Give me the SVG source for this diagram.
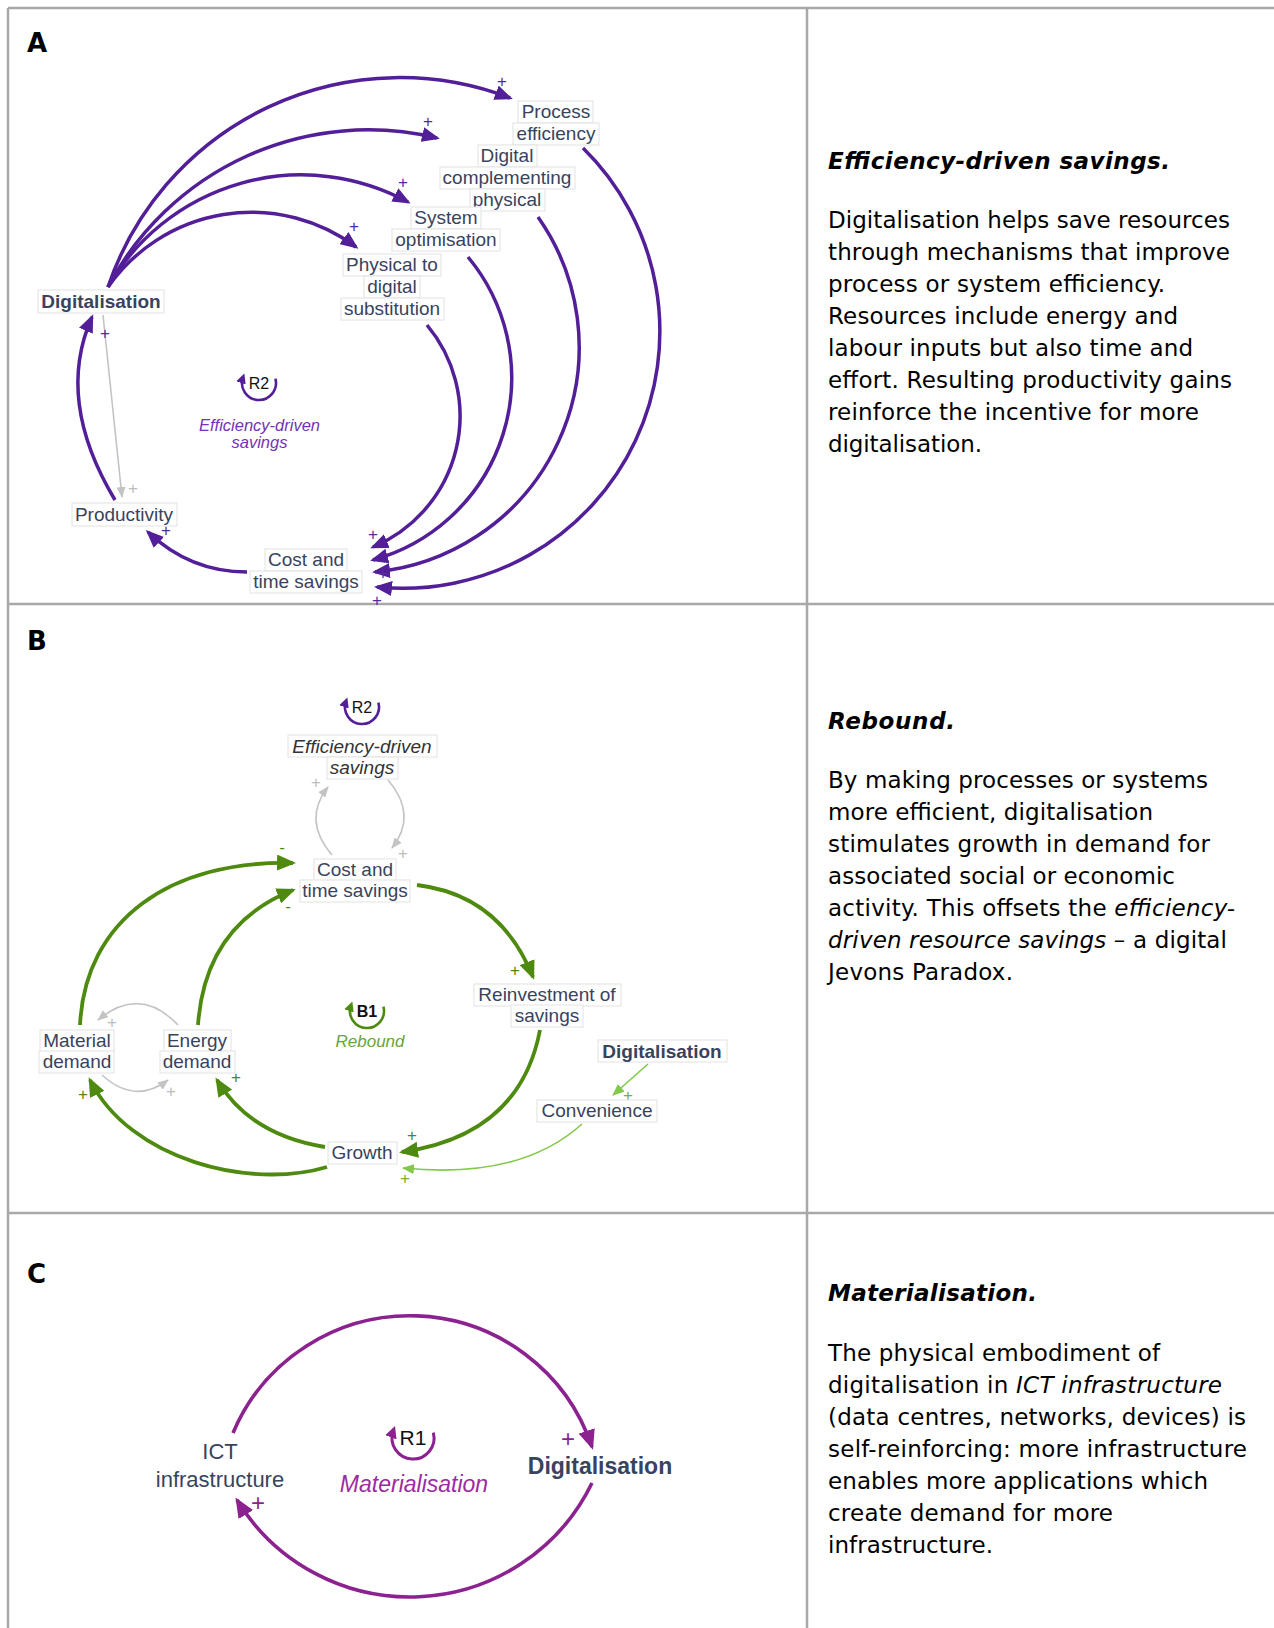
<svg xmlns="http://www.w3.org/2000/svg" width="1274" height="1628" viewBox="0 0 1274 1628">
<style>
  .grid{stroke:#a8a8a8;stroke-width:2.5;fill:none}
  .lbl{font-family:"Liberation Sans",Arial,sans-serif;font-size:19px;fill:#38435e;text-anchor:middle}
  .bold{font-weight:bold}
  .box{fill:#fff;stroke:#e2e2e2;stroke-width:1}
  .panel{font-family:"DejaVu Sans",Verdana,sans-serif;font-weight:bold;font-size:26px;fill:#000}
  .title{font-family:"DejaVu Sans",Verdana,sans-serif;font-weight:bold;font-style:italic;font-size:23px;fill:#000}
  .body{font-family:"DejaVu Sans",Verdana,sans-serif;font-size:23px;fill:#000}
  .it{font-style:italic}
  .pA{fill:none;stroke:#521f98;stroke-width:3.5;marker-end:url(#mA)}
  .gB{fill:none;stroke:#4f8a10;stroke-width:3.8;marker-end:url(#mG)}
  .grey{fill:none;stroke:#c4c4c4;stroke-width:1.6;marker-end:url(#mGr)}
  .lg{fill:none;stroke:#82c84a;stroke-width:1.6;marker-end:url(#mLG)}
  .mC{fill:none;stroke:#8c2190;stroke-width:3.6;marker-end:url(#mC)}
  .sgn{font-family:"Liberation Sans",Arial,sans-serif;font-size:17px;text-anchor:middle;dominant-baseline:central}
  .sA{fill:#5a289e}.sG{fill:#4f8a10}.sGr{fill:#bdbdbd}.sLG{fill:#6cb830}
  .sC{fill:#8c2190;font-size:24px}
  .loopTxt{font-family:"Liberation Sans",Arial,sans-serif;font-size:16px;fill:#111;text-anchor:middle}
  .loopName{font-family:"Liberation Sans",Arial,sans-serif;font-style:italic;text-anchor:middle}
</style>
<defs>
  <marker id="mA" markerUnits="userSpaceOnUse" viewBox="0 0 18 15" markerWidth="18" markerHeight="15" refX="15" refY="7.5" orient="auto"><path d="M0,0 L18,7.5 L0,15 Z" fill="#521f98"/></marker>
  <marker id="mG" markerUnits="userSpaceOnUse" viewBox="0 0 19 16" markerWidth="19" markerHeight="16" refX="16" refY="8" orient="auto"><path d="M0,0 L19,8 L0,16 Z" fill="#4f8a10"/></marker>
  <marker id="mGr" markerUnits="userSpaceOnUse" viewBox="0 0 11 9" markerWidth="11" markerHeight="9" refX="10" refY="4.5" orient="auto"><path d="M0,0 L11,4.5 L0,9 Z" fill="#c4c4c4"/></marker>
  <marker id="mLG" markerUnits="userSpaceOnUse" viewBox="0 0 12 10" markerWidth="12" markerHeight="10" refX="11" refY="5" orient="auto"><path d="M0,0 L12,5 L0,10 Z" fill="#82c84a"/></marker>
  <marker id="mC" markerUnits="userSpaceOnUse" viewBox="0 0 20 17" markerWidth="20" markerHeight="17" refX="17" refY="8.5" orient="auto"><path d="M0,0 L20,8.5 L0,17 Z" fill="#8c2190"/></marker>
  <marker id="lpA" markerUnits="userSpaceOnUse" viewBox="0 0 10 10" markerWidth="10" markerHeight="10" refX="6" refY="5" orient="auto"><path d="M0,0 L10,5 L0,10 Z" fill="#521f98"/></marker>
  <marker id="lpG" markerUnits="userSpaceOnUse" viewBox="0 0 10 10" markerWidth="10" markerHeight="10" refX="6" refY="5" orient="auto"><path d="M0,0 L10,5 L0,10 Z" fill="#4f8a10"/></marker>
  <marker id="lpC" markerUnits="userSpaceOnUse" viewBox="0 0 12 12" markerWidth="12" markerHeight="12" refX="7" refY="6" orient="auto"><path d="M0,0 L12,6 L0,12 Z" fill="#8c2190"/></marker>
</defs>
<rect width="1274" height="1628" fill="#fff"/>

<!-- table frame -->
<g id="frame">
  <line class="grid" x1="8" y1="8" x2="1274" y2="8"/>
  <line class="grid" x1="8" y1="8" x2="8" y2="1628"/>
  <line class="grid" x1="807" y1="8" x2="807" y2="1628"/>
  <line class="grid" x1="8" y1="604" x2="1274" y2="604"/>
  <line class="grid" x1="8" y1="1213" x2="1274" y2="1213"/>
  <text class="panel" x="27" y="52">A</text>
  <text class="panel" x="27" y="650">B</text>
  <text class="panel" x="27" y="1283">C</text>
</g>

<!-- causal links -->
<g id="connectors">
  <!-- panel A -->
  <path class="pA" d="M108,287 A308,308 0 0 1 510,98"/>
  <path class="pA" d="M108,287 A294,294 0 0 1 437,138"/>
  <path class="pA" d="M108,287 A223,223 0 0 1 408,202"/>
  <path class="pA" d="M108,287 A175,175 0 0 1 356,247"/>
  <path class="pA" d="M583,148 A257,257 0 0 1 377,587"/>
  <path class="pA" d="M538,217 A226,226 0 0 1 375,572"/>
  <path class="pA" d="M468,257 A189,189 0 0 1 373,560"/>
  <path class="pA" d="M427,325 A142,142 0 0 1 373,547"/>
  <path class="pA" d="M115,500 Q55,400 92,317"/>
  <path class="pA" d="M247,572 Q190,572 148,532"/>
  <path class="grey" d="M103,315 L122,497"/>
  <!-- panel B -->
  <path class="gB" d="M417,885 Q500,895 533,977"/>
  <path class="gB" d="M540,1030 Q520,1135 402,1152"/>
  <path class="gB" d="M325,1147 Q250,1135 217,1080"/>
  <path class="gB" d="M327,1167 C250,1190 130,1160 90,1080"/>
  <path class="gB" d="M80,1025 C85,920 170,860 293,863"/>
  <path class="gB" d="M198,1025 Q205,925 293,890"/>
  <path class="grey" d="M332,855 Q302,820 328,787"/>
  <path class="grey" d="M388,780 Q418,815 392,848"/>
  <path class="grey" d="M178,1025 Q140,985 98,1020"/>
  <path class="grey" d="M102,1075 Q135,1105 168,1080"/>
  <path class="lg" d="M648,1064 L613,1095"/>
  <path class="lg" d="M582,1124 Q520,1180 403,1168"/>
  <!-- panel C -->
  <path class="mC" d="M233,1433 A192,192 0 0 1 592,1447"/>
  <path class="mC" d="M592,1483 A202.5,202.5 0 0 1 237,1500"/>
</g>

<!-- link polarities -->
<g id="polarities">
  <text class="sgn sA" x="502" y="81">+</text>
  <text class="sgn sA" x="428" y="121">+</text>
  <text class="sgn sA" x="403" y="182">+</text>
  <text class="sgn sA" x="354" y="226">+</text>
  <text class="sgn sA" x="373" y="534">+</text>
  <text class="sgn sA" x="383" y="573">+</text>
  <text class="sgn sA" x="377" y="600">+</text>
  <text class="sgn sA" x="166" y="530">+</text>
  <text class="sgn sA" x="105" y="333">+</text>
  <text class="sgn sGr" x="133" y="488">+</text>
  <text class="sgn sG" x="515" y="970">+</text>
  <text class="sgn sG" x="412" y="1135">+</text>
  <text class="sgn sG" x="236" y="1077">+</text>
  <text class="sgn sG" x="83" y="1094">+</text>
  <text class="sgn sG" x="282" y="847">-</text>
  <text class="sgn sG" x="288" y="906">-</text>
  <text class="sgn sGr" x="316" y="782">+</text>
  <text class="sgn sGr" x="403" y="853">+</text>
  <text class="sgn sGr" x="112" y="1022">+</text>
  <text class="sgn sGr" x="171" y="1091">+</text>
  <text class="sgn sLG" x="628" y="1095">+</text>
  <text class="sgn sLG" x="405" y="1178">+</text>
  <text class="sgn sC" x="568" y="1438">+</text>
  <text class="sgn sC" x="258" y="1502">+</text>
</g>

<!-- loop markers -->
<g id="loop-R2-a">
  <path d="M275.4,378.6 A17,17 0 1 1 243,377.2" fill="none" stroke="#521f98" stroke-width="2.6" marker-end="url(#lpA)"/>
  <text class="loopTxt" x="259" y="389">R2</text>
  <text class="loopName" x="259.5" y="431" style="font-size:16.5px;fill:#7433b4">Efficiency-driven</text>
  <text class="loopName" x="259.5" y="448" style="font-size:16.5px;fill:#7433b4">savings</text>
</g>
<g id="loop-R2-b">
  <path d="M378.4,702.6 A17,17 0 1 1 346,701.2" fill="none" stroke="#521f98" stroke-width="2.6" marker-end="url(#lpA)"/>
  <text class="loopTxt" x="362" y="713">R2</text>
</g>
<g id="loop-B1">
  <path d="M383.4,1006.6 A17,17 0 1 1 351,1005.2" fill="none" stroke="#4f8a10" stroke-width="2.6" marker-end="url(#lpG)"/>
  <text class="loopTxt bold" x="367" y="1017">B1</text>
  <text class="loopName" x="370" y="1047" style="font-size:17px;fill:#6aa535">Rebound</text>
</g>
<g id="loop-R1">
  <path d="M433.3,1432.6 A21,21 0 1 1 393.3,1430.8" fill="none" stroke="#8c2190" stroke-width="3" marker-end="url(#lpC)"/>
  <text class="loopTxt" x="413" y="1445" style="font-size:21px">R1</text>
  <text class="loopName" x="414" y="1492" style="font-size:23px;fill:#9b2ba0">Materialisation</text>
</g>

<!-- panel A variables -->
<g id="a-digitalisation">
  <rect class="box" x="38" y="290" width="126" height="23"/>
  <text class="lbl bold" x="101" y="308">Digitalisation</text>
</g>
<g id="a-process-efficiency">
  <rect class="box" x="518" y="101" width="75" height="22"/>
  <rect class="box" x="513" y="123" width="86" height="22"/>
  <text class="lbl" x="556" y="118">Process</text>
  <text class="lbl" x="556" y="140">efficiency</text>
</g>
<g id="a-digital-complementing">
  <rect class="box" x="478" y="145" width="59" height="22"/>
  <rect class="box" x="440" y="167" width="135" height="22"/>
  <rect class="box" x="470" y="189" width="75" height="22"/>
  <text class="lbl" x="507" y="162">Digital</text>
  <text class="lbl" x="507" y="184">complementing</text>
  <text class="lbl" x="507" y="206">physical</text>
</g>
<g id="a-system-optimisation">
  <rect class="box" x="411" y="207" width="70" height="22"/>
  <rect class="box" x="392" y="229" width="108" height="22"/>
  <text class="lbl" x="446" y="224">System</text>
  <text class="lbl" x="446" y="246">optimisation</text>
</g>
<g id="a-physical-digital">
  <rect class="box" x="343" y="254" width="98" height="22"/>
  <rect class="box" x="364" y="276" width="56" height="22"/>
  <rect class="box" x="341" y="298" width="103" height="22"/>
  <text class="lbl" x="392" y="271">Physical to</text>
  <text class="lbl" x="392" y="293">digital</text>
  <text class="lbl" x="392" y="315">substitution</text>
</g>
<g id="a-productivity">
  <rect class="box" x="72" y="503" width="105" height="23"/>
  <text class="lbl" x="124" y="521">Productivity</text>
</g>
<g id="a-cost-time">
  <rect class="box" x="265" y="549" width="82" height="22"/>
  <rect class="box" x="250" y="571" width="112" height="22"/>
  <text class="lbl" x="306" y="566">Cost and</text>
  <text class="lbl" x="306" y="588">time savings</text>
</g>

<!-- panel B variables -->
<g id="b-efficiency-savings">
  <rect class="box" x="288" y="735" width="149" height="22"/>
  <rect class="box" x="327" y="757" width="71" height="22"/>
  <text class="lbl" x="362" y="753" style="font-style:italic;fill:#333">Efficiency-driven</text>
  <text class="lbl" x="362" y="774" style="font-style:italic;fill:#333">savings</text>
</g>
<g id="b-cost-time">
  <rect class="box" x="314" y="859" width="82" height="22"/>
  <rect class="box" x="300" y="880" width="110" height="22"/>
  <text class="lbl" x="355" y="876">Cost and</text>
  <text class="lbl" x="355" y="897">time savings</text>
</g>
<g id="b-reinvestment">
  <rect class="box" x="474" y="984" width="147" height="22"/>
  <rect class="box" x="511" y="1005" width="72" height="22"/>
  <text class="lbl" x="547" y="1001">Reinvestment of</text>
  <text class="lbl" x="547" y="1022">savings</text>
</g>
<g id="b-growth">
  <rect class="box" x="328" y="1142" width="69" height="22"/>
  <text class="lbl" x="362" y="1159">Growth</text>
</g>
<g id="b-digitalisation">
  <rect class="box" x="598" y="1040" width="129" height="22"/>
  <text class="lbl bold" x="662" y="1058">Digitalisation</text>
</g>
<g id="b-convenience">
  <rect class="box" x="537" y="1100" width="120" height="22"/>
  <text class="lbl" x="597" y="1117">Convenience</text>
</g>
<g id="b-material-demand">
  <rect class="box" x="40" y="1030" width="74" height="22"/>
  <rect class="box" x="39" y="1051" width="75" height="22"/>
  <text class="lbl" x="77" y="1047">Material</text>
  <text class="lbl" x="77" y="1068">demand</text>
</g>
<g id="b-energy-demand">
  <rect class="box" x="164" y="1030" width="67" height="22"/>
  <rect class="box" x="160" y="1051" width="75" height="22"/>
  <text class="lbl" x="197" y="1047">Energy</text>
  <text class="lbl" x="197" y="1068">demand</text>
</g>

<!-- panel C variables -->
<g id="c-ict">
  <text class="lbl" x="220" y="1459" style="font-size:22px">ICT</text>
  <text class="lbl" x="220" y="1487" style="font-size:22px">infrastructure</text>
</g>
<g id="c-digitalisation">
  <text class="lbl bold" x="600" y="1474" style="font-size:23px">Digitalisation</text>
</g>

<!-- explanatory column -->
<g id="text-a">
  <text class="title" x="828" y="169" textLength="342">Efficiency-driven savings.</text>
  <text class="body" x="828" y="228" textLength="402">Digitalisation helps save resources</text>
  <text class="body" x="828" y="260" textLength="402">through mechanisms that improve</text>
  <text class="body" x="828" y="292" textLength="337">process or system efficiency.</text>
  <text class="body" x="828" y="324" textLength="350">Resources include energy and</text>
  <text class="body" x="828" y="356" textLength="365">labour inputs but also time and</text>
  <text class="body" x="828" y="388" textLength="404">effort. Resulting productivity gains</text>
  <text class="body" x="828" y="420" textLength="371">reinforce the incentive for more</text>
  <text class="body" x="828" y="452" textLength="154">digitalisation.</text>
</g>
<g id="text-b">
  <text class="title" x="828" y="729" textLength="127">Rebound.</text>
  <text class="body" x="828" y="788" textLength="380">By making processes or systems</text>
  <text class="body" x="828" y="820" textLength="325">more efficient, digitalisation</text>
  <text class="body" x="828" y="852" textLength="382">stimulates growth in demand for</text>
  <text class="body" x="828" y="884" textLength="347">associated social or economic</text>
  <text class="body" x="828" y="916" textLength="407">activity. This offsets the <tspan class="it">efficiency-</tspan></text>
  <text class="body" x="828" y="948" textLength="399"><tspan class="it">driven resource savings</tspan> – a digital</text>
  <text class="body" x="828" y="980" textLength="185">Jevons Paradox.</text>
</g>
<g id="text-c">
  <text class="title" x="828" y="1301" textLength="209">Materialisation.</text>
  <text class="body" x="828" y="1361" textLength="332">The physical embodiment of</text>
  <text class="body" x="828" y="1393" textLength="394">digitalisation in <tspan class="it">ICT infrastructure</tspan></text>
  <text class="body" x="828" y="1425" textLength="418">(data centres, networks, devices) is</text>
  <text class="body" x="828" y="1457" textLength="419">self-reinforcing: more infrastructure</text>
  <text class="body" x="828" y="1489" textLength="380">enables more applications which</text>
  <text class="body" x="828" y="1521" textLength="285">create demand for more</text>
  <text class="body" x="828" y="1553" textLength="165">infrastructure.</text>
</g>
</svg>
